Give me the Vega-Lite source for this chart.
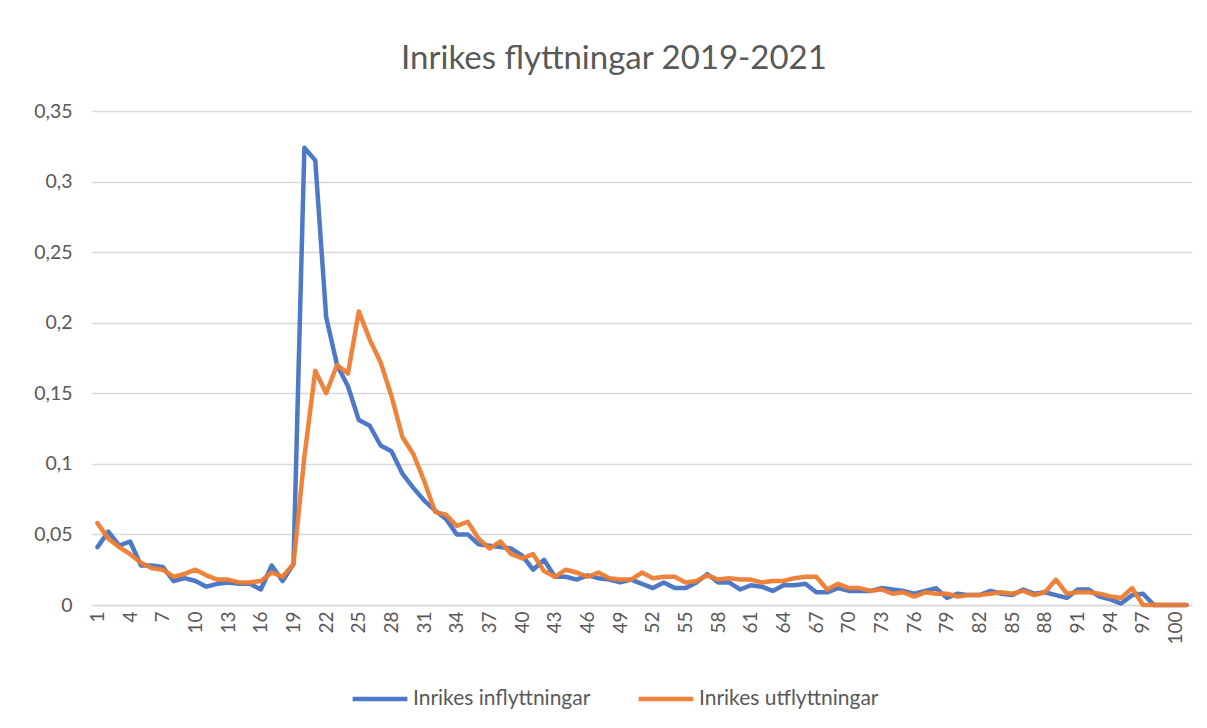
{
  "$schema": "https://vega.github.io/schema/vega-lite/v6.json",
  "autosize": "none",
  "width": 1100,
  "height": 494,
  "padding": {"left": 92, "top": 111, "right": 15, "bottom": 123},
  "background": "white",
  "title": {
    "text": "Inrikes flyttningar 2019-2021",
    "font": "Lato",
    "fontSize": 33,
    "fontWeight": "normal",
    "color": "#595959",
    "anchor": "middle",
    "dx": -28,
    "offset": 25
  },
  "data": {
    "values": [
      {"a":1,"Inrikes inflyttningar":0.041,"Inrikes utflyttningar":0.058},
      {"a":2,"Inrikes inflyttningar":0.052,"Inrikes utflyttningar":0.047},
      {"a":3,"Inrikes inflyttningar":0.042,"Inrikes utflyttningar":0.041},
      {"a":4,"Inrikes inflyttningar":0.045,"Inrikes utflyttningar":0.036},
      {"a":5,"Inrikes inflyttningar":0.028,"Inrikes utflyttningar":0.030},
      {"a":6,"Inrikes inflyttningar":0.028,"Inrikes utflyttningar":0.026},
      {"a":7,"Inrikes inflyttningar":0.027,"Inrikes utflyttningar":0.025},
      {"a":8,"Inrikes inflyttningar":0.017,"Inrikes utflyttningar":0.020},
      {"a":9,"Inrikes inflyttningar":0.019,"Inrikes utflyttningar":0.022},
      {"a":10,"Inrikes inflyttningar":0.017,"Inrikes utflyttningar":0.025},
      {"a":11,"Inrikes inflyttningar":0.013,"Inrikes utflyttningar":0.021},
      {"a":12,"Inrikes inflyttningar":0.015,"Inrikes utflyttningar":0.018},
      {"a":13,"Inrikes inflyttningar":0.016,"Inrikes utflyttningar":0.018},
      {"a":14,"Inrikes inflyttningar":0.015,"Inrikes utflyttningar":0.016},
      {"a":15,"Inrikes inflyttningar":0.015,"Inrikes utflyttningar":0.016},
      {"a":16,"Inrikes inflyttningar":0.011,"Inrikes utflyttningar":0.017},
      {"a":17,"Inrikes inflyttningar":0.028,"Inrikes utflyttningar":0.023},
      {"a":18,"Inrikes inflyttningar":0.017,"Inrikes utflyttningar":0.020},
      {"a":19,"Inrikes inflyttningar":0.029,"Inrikes utflyttningar":0.029},
      {"a":20,"Inrikes inflyttningar":0.324,"Inrikes utflyttningar":0.105},
      {"a":21,"Inrikes inflyttningar":0.315,"Inrikes utflyttningar":0.166},
      {"a":22,"Inrikes inflyttningar":0.204,"Inrikes utflyttningar":0.150},
      {"a":23,"Inrikes inflyttningar":0.170,"Inrikes utflyttningar":0.170},
      {"a":24,"Inrikes inflyttningar":0.155,"Inrikes utflyttningar":0.164},
      {"a":25,"Inrikes inflyttningar":0.131,"Inrikes utflyttningar":0.208},
      {"a":26,"Inrikes inflyttningar":0.127,"Inrikes utflyttningar":0.188},
      {"a":27,"Inrikes inflyttningar":0.113,"Inrikes utflyttningar":0.172},
      {"a":28,"Inrikes inflyttningar":0.109,"Inrikes utflyttningar":0.148},
      {"a":29,"Inrikes inflyttningar":0.093,"Inrikes utflyttningar":0.119},
      {"a":30,"Inrikes inflyttningar":0.083,"Inrikes utflyttningar":0.107},
      {"a":31,"Inrikes inflyttningar":0.074,"Inrikes utflyttningar":0.088},
      {"a":32,"Inrikes inflyttningar":0.067,"Inrikes utflyttningar":0.066},
      {"a":33,"Inrikes inflyttningar":0.061,"Inrikes utflyttningar":0.064},
      {"a":34,"Inrikes inflyttningar":0.050,"Inrikes utflyttningar":0.056},
      {"a":35,"Inrikes inflyttningar":0.050,"Inrikes utflyttningar":0.059},
      {"a":36,"Inrikes inflyttningar":0.043,"Inrikes utflyttningar":0.047},
      {"a":37,"Inrikes inflyttningar":0.042,"Inrikes utflyttningar":0.040},
      {"a":38,"Inrikes inflyttningar":0.041,"Inrikes utflyttningar":0.045},
      {"a":39,"Inrikes inflyttningar":0.040,"Inrikes utflyttningar":0.036},
      {"a":40,"Inrikes inflyttningar":0.035,"Inrikes utflyttningar":0.033},
      {"a":41,"Inrikes inflyttningar":0.025,"Inrikes utflyttningar":0.036},
      {"a":42,"Inrikes inflyttningar":0.032,"Inrikes utflyttningar":0.024},
      {"a":43,"Inrikes inflyttningar":0.020,"Inrikes utflyttningar":0.020},
      {"a":44,"Inrikes inflyttningar":0.020,"Inrikes utflyttningar":0.025},
      {"a":45,"Inrikes inflyttningar":0.018,"Inrikes utflyttningar":0.023},
      {"a":46,"Inrikes inflyttningar":0.021,"Inrikes utflyttningar":0.020},
      {"a":47,"Inrikes inflyttningar":0.019,"Inrikes utflyttningar":0.023},
      {"a":48,"Inrikes inflyttningar":0.018,"Inrikes utflyttningar":0.019},
      {"a":49,"Inrikes inflyttningar":0.016,"Inrikes utflyttningar":0.018},
      {"a":50,"Inrikes inflyttningar":0.018,"Inrikes utflyttningar":0.018},
      {"a":51,"Inrikes inflyttningar":0.015,"Inrikes utflyttningar":0.023},
      {"a":52,"Inrikes inflyttningar":0.012,"Inrikes utflyttningar":0.019},
      {"a":53,"Inrikes inflyttningar":0.016,"Inrikes utflyttningar":0.020},
      {"a":54,"Inrikes inflyttningar":0.012,"Inrikes utflyttningar":0.020},
      {"a":55,"Inrikes inflyttningar":0.012,"Inrikes utflyttningar":0.016},
      {"a":56,"Inrikes inflyttningar":0.016,"Inrikes utflyttningar":0.017},
      {"a":57,"Inrikes inflyttningar":0.022,"Inrikes utflyttningar":0.021},
      {"a":58,"Inrikes inflyttningar":0.016,"Inrikes utflyttningar":0.018},
      {"a":59,"Inrikes inflyttningar":0.016,"Inrikes utflyttningar":0.019},
      {"a":60,"Inrikes inflyttningar":0.011,"Inrikes utflyttningar":0.018},
      {"a":61,"Inrikes inflyttningar":0.014,"Inrikes utflyttningar":0.018},
      {"a":62,"Inrikes inflyttningar":0.013,"Inrikes utflyttningar":0.016},
      {"a":63,"Inrikes inflyttningar":0.010,"Inrikes utflyttningar":0.017},
      {"a":64,"Inrikes inflyttningar":0.014,"Inrikes utflyttningar":0.017},
      {"a":65,"Inrikes inflyttningar":0.014,"Inrikes utflyttningar":0.019},
      {"a":66,"Inrikes inflyttningar":0.015,"Inrikes utflyttningar":0.020},
      {"a":67,"Inrikes inflyttningar":0.009,"Inrikes utflyttningar":0.020},
      {"a":68,"Inrikes inflyttningar":0.009,"Inrikes utflyttningar":0.011},
      {"a":69,"Inrikes inflyttningar":0.012,"Inrikes utflyttningar":0.015},
      {"a":70,"Inrikes inflyttningar":0.010,"Inrikes utflyttningar":0.012},
      {"a":71,"Inrikes inflyttningar":0.010,"Inrikes utflyttningar":0.012},
      {"a":72,"Inrikes inflyttningar":0.010,"Inrikes utflyttningar":0.010},
      {"a":73,"Inrikes inflyttningar":0.012,"Inrikes utflyttningar":0.011},
      {"a":74,"Inrikes inflyttningar":0.011,"Inrikes utflyttningar":0.008},
      {"a":75,"Inrikes inflyttningar":0.010,"Inrikes utflyttningar":0.009},
      {"a":76,"Inrikes inflyttningar":0.008,"Inrikes utflyttningar":0.006},
      {"a":77,"Inrikes inflyttningar":0.010,"Inrikes utflyttningar":0.009},
      {"a":78,"Inrikes inflyttningar":0.012,"Inrikes utflyttningar":0.008},
      {"a":79,"Inrikes inflyttningar":0.005,"Inrikes utflyttningar":0.008},
      {"a":80,"Inrikes inflyttningar":0.008,"Inrikes utflyttningar":0.006},
      {"a":81,"Inrikes inflyttningar":0.007,"Inrikes utflyttningar":0.007},
      {"a":82,"Inrikes inflyttningar":0.007,"Inrikes utflyttningar":0.007},
      {"a":83,"Inrikes inflyttningar":0.010,"Inrikes utflyttningar":0.008},
      {"a":84,"Inrikes inflyttningar":0.008,"Inrikes utflyttningar":0.009},
      {"a":85,"Inrikes inflyttningar":0.007,"Inrikes utflyttningar":0.008},
      {"a":86,"Inrikes inflyttningar":0.011,"Inrikes utflyttningar":0.010},
      {"a":87,"Inrikes inflyttningar":0.008,"Inrikes utflyttningar":0.007},
      {"a":88,"Inrikes inflyttningar":0.009,"Inrikes utflyttningar":0.009},
      {"a":89,"Inrikes inflyttningar":0.007,"Inrikes utflyttningar":0.018},
      {"a":90,"Inrikes inflyttningar":0.005,"Inrikes utflyttningar":0.008},
      {"a":91,"Inrikes inflyttningar":0.011,"Inrikes utflyttningar":0.009},
      {"a":92,"Inrikes inflyttningar":0.011,"Inrikes utflyttningar":0.009},
      {"a":93,"Inrikes inflyttningar":0.006,"Inrikes utflyttningar":0.008},
      {"a":94,"Inrikes inflyttningar":0.004,"Inrikes utflyttningar":0.006},
      {"a":95,"Inrikes inflyttningar":0.001,"Inrikes utflyttningar":0.005},
      {"a":96,"Inrikes inflyttningar":0.007,"Inrikes utflyttningar":0.012},
      {"a":97,"Inrikes inflyttningar":0.008,"Inrikes utflyttningar":0.000},
      {"a":98,"Inrikes inflyttningar":0.000,"Inrikes utflyttningar":0.000},
      {"a":99,"Inrikes inflyttningar":0.000,"Inrikes utflyttningar":0.000},
      {"a":100,"Inrikes inflyttningar":0.000,"Inrikes utflyttningar":0.000},
      {"a":101,"Inrikes inflyttningar":0.000,"Inrikes utflyttningar":0.000}
    ]
  },
  "transform": [
    {"fold": ["Inrikes inflyttningar", "Inrikes utflyttningar"], "as": ["serie", "v"]}
  ],
  "mark": {"type": "line", "strokeWidth": 4.5, "strokeJoin": "round", "strokeCap": "round", "opacity": 0.95},
  "encoding": {
    "x": {
      "field": "a",
      "type": "ordinal",
      "sort": "ascending",
      "scale": {"type": "point", "padding": 0.5},
      "axis": {
        "title": null,
        "values": [1,4,7,10,13,16,19,22,25,28,31,34,37,40,43,46,49,52,55,58,61,64,67,70,73,76,79,82,85,88,91,94,97,100],
        "labelAngle": 270,
        "labelAlign": "right",
        "labelBaseline": "middle",
        "labelPadding": 6,
        "labelFont": "Lato",
        "labelFontSize": 19,
        "labelColor": "#595959",
        "ticks": false,
        "domain": true,
        "domainColor": "#d9d9d9",
        "domainWidth": 1.5,
        "grid": false,
        "labelOverlap": false
      }
    },
    "y": {
      "field": "v",
      "type": "quantitative",
      "scale": {"domain": [0, 0.35], "nice": false},
      "axis": {
        "title": null,
        "values": [0, 0.05, 0.1, 0.15, 0.2, 0.25, 0.3, 0.35],
        "labelExpr": "replace(format(datum.value, '~g'), '.', ',')",
        "labelFont": "Lato",
        "labelFontSize": 19.5,
        "labelColor": "#595959",
        "labelPadding": 20,
        "ticks": false,
        "domain": false,
        "grid": true,
        "gridColor": "#d9d9d9",
        "gridWidth": 1.5
      }
    },
    "color": {
      "field": "serie",
      "type": "nominal",
      "scale": {"domain": ["Inrikes inflyttningar", "Inrikes utflyttningar"], "range": ["#4472C4", "#ED7D31"]},
      "legend": {
        "title": null,
        "orient": "none",
        "direction": "horizontal",
        "legendX": 258,
        "legendY": 558,
        "symbolType": "stroke",
        "symbolSize": 3000,
        "symbolStrokeWidth": 4.5,
        "labelFont": "Lato",
        "labelFontSize": 21,
        "labelLimit": 400,
        "labelColor": "#595959",
        "labelOffset": 3,
        "columnPadding": 38
      }
    }
  },
  "config": {
    "view": {"stroke": null}
  }
}
